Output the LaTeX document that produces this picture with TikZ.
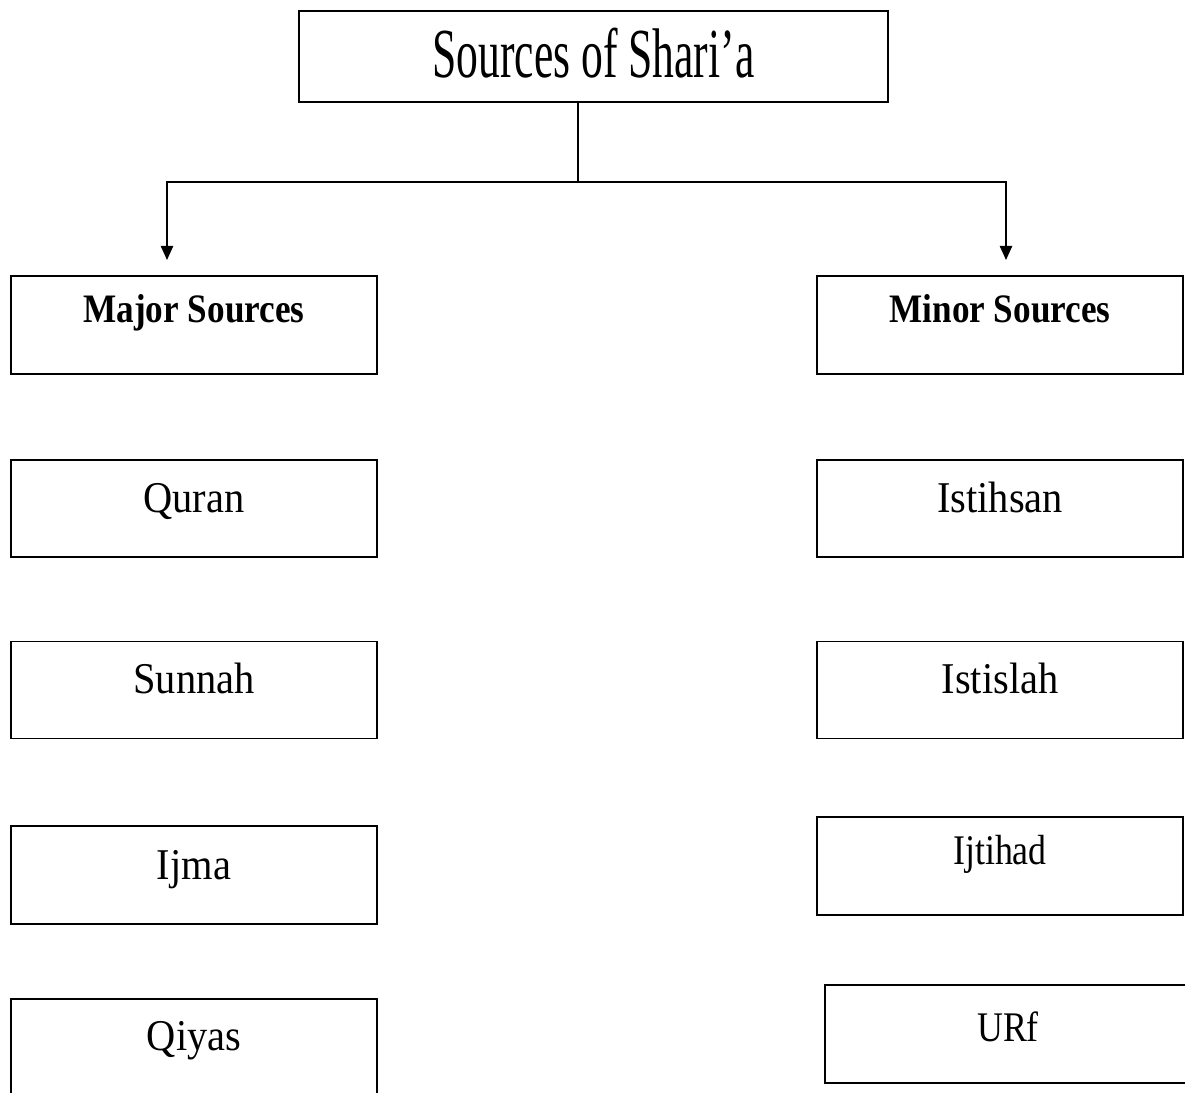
\documentclass[tikz,border=0pt]{standalone}
\usepackage{fontspec}
\setmainfont{Liberation Serif}
\usepackage{graphicx}
\usetikzlibrary{arrows.meta}
\newcommand{\sqz}[2]{\scalebox{#1}[1]{#2}}

\begin{document}
\begin{tikzpicture}[x=0.02cm, y=-0.02cm, >={Triangle[length=8pt, width=7pt]},
  box/.style={draw, line width=0.9pt, inner sep=0pt, minimum width=7.32cm,
    text height=1.04cm, text depth=0.9cm, font=\fontsize{25}{30}\selectfont},
  head/.style={box, text height=0.92cm, text depth=1.04cm,
    font=\fontsize{23}{28}\selectfont\bfseries}]
  \useasboundingbox (0,0) rectangle (1185,1092);
  \node[box, minimum width=11.78cm, text height=1.34cm, text depth=0.48cm,
    font=\fontsize{40}{48}\selectfont] (shar) at (593.5,56.5) {\sqz{0.62}{Sources of Shari’a}};
  % left column
  \node[head] (major) at (194,325) {\sqz{0.87}{Major Sources}};
  \node[box] (quran) at (194,508.5) {\sqz{0.92}{Quran}};
  \node[box] (sunnah) at (194,690) {\sqz{0.92}{Sunnah}};
  \node[box, text height=1.06cm, text depth=0.9cm] (ijma) at (194,875) {\sqz{0.92}{Ijma}};
  \node[box, text height=1.02cm, text depth=0.94cm] (qiyas) at (194,1048) {\sqz{0.92}{Qiyas}};
  % right column
  \node[head] (minor) at (1000,325) {\sqz{0.87}{Minor Sources}};
  \node[box] (istihsan) at (1000,508.5) {\sqz{0.92}{Istihsan}};
  \node[box] (istislah) at (1000,690) {\sqz{0.92}{Istislah}};
  \node[box, text height=0.94cm, text depth=1.02cm, font=\fontsize{24}{29}\selectfont]
    (ijtihad) at (1000,866) {\sqz{0.85}{Ijtihad}};
  \node[box, text height=1.12cm, text depth=0.84cm, font=\fontsize{24}{29}\selectfont]
    (urf) at (1008,1034) {\sqz{0.85}{URf}\hspace{0.36cm}};
  % connectors
  \coordinate (hub) at (578,182);
  \coordinate (majin) at (167,260);
  \coordinate (minin) at (1006,260);
  \draw[line width=0.9pt] (shar.south -| hub) -- (hub);
  \draw[line width=0.9pt, ->] (hub) -| (majin);
  \draw[line width=0.9pt, ->] (hub) -| (minin);
\end{tikzpicture}
\end{document}
